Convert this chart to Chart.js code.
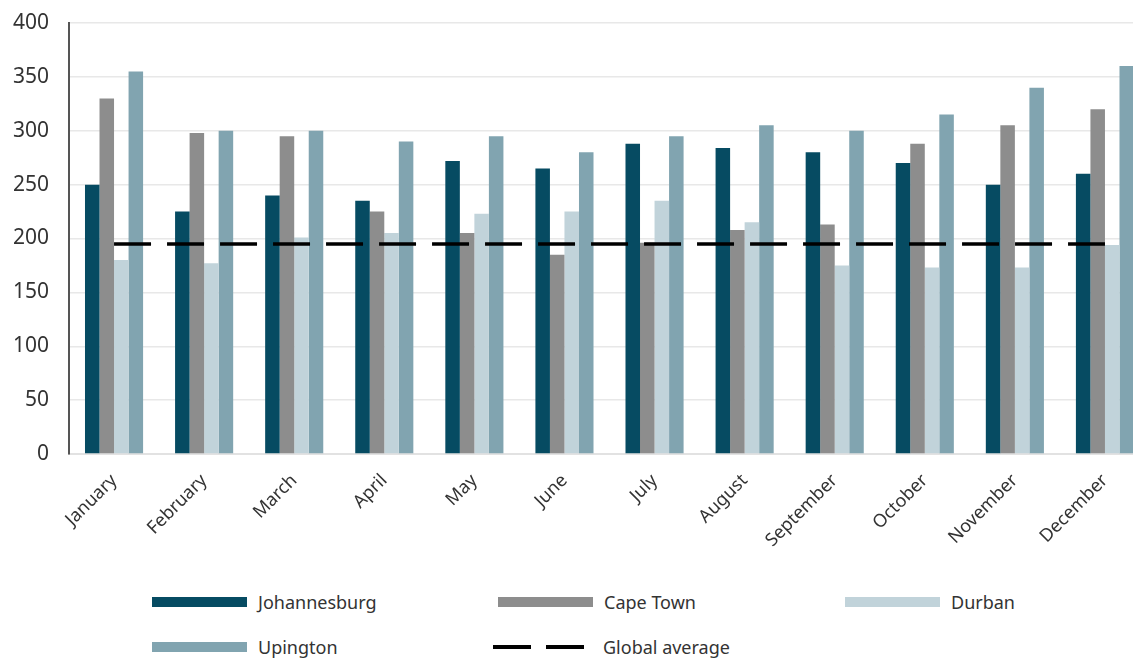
<!DOCTYPE html>
<html lang="en">
<head>
    <meta charset="UTF-8">
    <title>Monthly values by city</title>
    <script src="https://cdn.jsdelivr.net/npm/chart.js"></script>
    <style>
        body { margin: 0; background: #fff; overflow: hidden; font-family: "Noto Sans", sans-serif; }
        .wrap { position: relative; width: 1150px; height: 575px; }
        #legend { position: absolute; left: 0; top: 580px; width: 1133px; height: 80px; }
        .item { position: absolute; display: flex; align-items: center; font-size: 18px; color: #333; }
        .swatch { width: 95px; height: 10px; margin-right: 11px; }
    </style>
</head>
<body>
    <div class="wrap">
        <canvas id="chart"></canvas>
    </div>
    <div id="legend"></div>

    <script>
        const months = ['January', 'February', 'March', 'April', 'May', 'June',
                        'July', 'August', 'September', 'October', 'November', 'December'];
        const johannesburg = [250, 225, 240, 235, 272, 265, 288, 284, 280, 270, 250, 260];
        const capeTown     = [330, 298, 295, 225, 205, 185, 196, 208, 213, 288, 305, 320];
        const durban       = [180, 177, 201, 205, 223, 225, 235, 215, 175, 173, 173, 194];
        const upington     = [355, 300, 300, 290, 295, 280, 295, 305, 300, 315, 340, 360];
        const globalAverage = [195, 195, 195, 195, 195, 195, 195, 195, 195, 195, 195, 195];

        const textColor = '#333';

        const ctx = document.getElementById('chart').getContext('2d');
        const chart = new Chart(ctx, {
            type: 'bar',
            data: {
                labels: months,
                datasets: [
                    { label: 'Johannesburg', data: johannesburg, backgroundColor: '#064b62', order: 1 },
                    { label: 'Cape Town', data: capeTown, backgroundColor: '#8d8d8d', order: 1 },
                    { label: 'Durban', data: durban, backgroundColor: '#c1d3da', order: 1 },
                    { label: 'Upington', data: upington, backgroundColor: '#81a4b0', order: 1 },
                    {
                        type: 'line',
                        label: 'Global average',
                        data: globalAverage,
                        borderColor: '#000',
                        borderWidth: 3.5,
                        borderDash: [37, 16],
                        pointRadius: 0,
                        fill: false,
                        order: 0
                    }
                ]
            },
            options: {
                responsive: true,
                maintainAspectRatio: false,
                animation: false,
                datasets: {
                    bar: { barPercentage: 1, categoryPercentage: 0.645 }
                },
                layout: { padding: { top: 23, right: 0, bottom: 0, left: 0 } },
                plugins: {
                    legend: { display: false },
                    tooltip: { enabled: false }
                },
                scales: {
                    x: {
                        grid: { display: false },
                        border: { color: '#e2e2e2', width: 2 },
                        ticks: {
                            color: textColor,
                            font: { family: 'Noto Sans', size: 18 },
                            maxRotation: 45,
                            minRotation: 45,
                            autoSkip: false,
                            padding: 8
                        },
                        afterFit: (scale) => { scale.height = 121; }
                    },
                    y: {
                        min: 0,
                        max: 400,
                        grid: { color: '#e8e8e8', lineWidth: 1.5, drawTicks: false },
                        border: { color: '#555', width: 2 },
                        ticks: {
                            stepSize: 50,
                            color: textColor,
                            font: { family: 'Noto Sans', size: 21 },
                            padding: 20
                        },
                        afterFit: (scale) => {
                            scale.width = 69;
                            scale.paddingTop = 0;
                            scale.paddingBottom = 0;
                        }
                    }
                }
            }
        });

        // legend laid out in three columns like the original
        const legendPos = [
            [152, 23], [498, 23], [845, 23],
            [152, 68], [498, 68]
        ];
        const legendEl = document.getElementById('legend');
        chart.data.datasets.forEach((ds, i) => {
            const item = document.createElement('div');
            item.className = 'item';
            item.style.left = legendPos[i][0] + 'px';
            item.style.top = (legendPos[i][1] - 13) + 'px';
            const sw = document.createElement('div');
            sw.className = 'swatch';
            if (ds.type === 'line') {
                sw.style.height = '4px';
                sw.style.width = '92px';
                sw.style.marginLeft = '-5px';
                sw.style.marginRight = '18px';
                sw.style.background = 'repeating-linear-gradient(to right, #000 0 38px, transparent 38px 53px)';
            } else {
                sw.style.background = ds.backgroundColor;
            }
            const txt = document.createElement('span');
            txt.textContent = ds.label;
            item.appendChild(sw);
            item.appendChild(txt);
            legendEl.appendChild(item);
        });
    </script>
</body>
</html>
